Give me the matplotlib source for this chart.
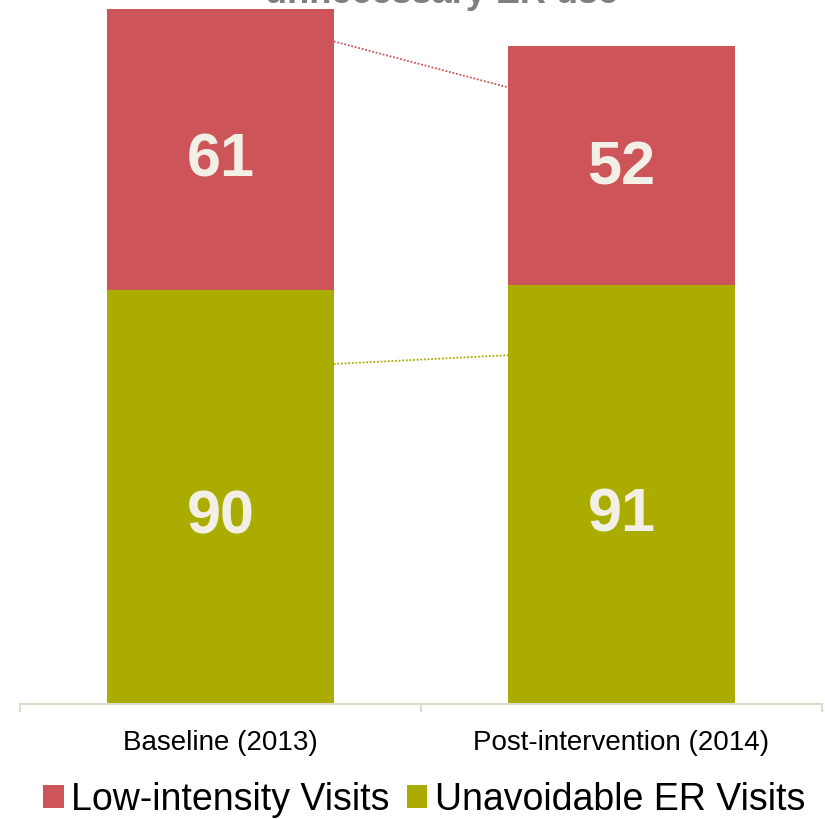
import matplotlib
matplotlib.use("Agg")
import matplotlib.pyplot as plt
from matplotlib.patches import Patch
from matplotlib.transforms import offset_copy
import numpy as np

plt.rcParams['font.family'] = ['Liberation Sans', 'DejaVu Sans']

categories = ["Baseline (2013)", "Post-intervention (2014)"]
unavoidable = [90, 91]
low_intensity = [61, 52]
# dotted series-line endpoints
line_low = [144.0, 134.0]
line_unavoid = [73.9, 75.8]

red = "#CD5459"
green = "#AAAD00"
label_color = "#F2EFE6"
axis_color = "#DEDBCD"

# label placement tweaks (pixels downward from segment centre)
shift_low = [5, -3]
shift_unavoid = [15, 15]

fig = plt.figure(figsize=(8.25, 8.19), dpi=100)
ax = fig.add_axes([20/825, 1-704/819, 802/825, 704/819])

x = np.arange(len(categories))
w = 0.565
ax.bar(x, unavoidable, width=w, color=green, zorder=2)
ax.bar(x, low_intensity, width=w, bottom=unavoidable, color=red, zorder=2)

ax.plot([x[0]+w/2, x[1]-w/2], line_low, linestyle=(0, (1, 1)), color=red, lw=1.3)
ax.plot([x[0]+w/2, x[1]-w/2], line_unavoid, linestyle=(0, (1, 1)), color=green, lw=1.3)

fs = 44
cap_px = 0.716 * fs * 100 / 72
px2pt = 72 / 100
for i in range(len(categories)):
    tr = offset_copy(ax.transData, fig=fig, x=0, y=-(shift_unavoid[i] + cap_px/2) * px2pt, units='points')
    ax.text(x[i], unavoidable[i]/2, str(unavoidable[i]), ha='center', va='baseline',
            fontsize=fs, fontweight='bold', color=label_color, transform=tr)
    tr = offset_copy(ax.transData, fig=fig, x=0, y=-(shift_low[i] + cap_px/2) * px2pt, units='points')
    ax.text(x[i], unavoidable[i] + low_intensity[i]/2, str(low_intensity[i]), ha='center', va='baseline',
            fontsize=fs, fontweight='bold', color=label_color, transform=tr)

ax.set_xlim(-0.5, 1.5)
ax.set_ylim(0, 153)
ax.set_yticks([])
for s in ['top', 'right', 'left']:
    ax.spines[s].set_visible(False)
ax.spines['bottom'].set_color(axis_color)
ax.spines['bottom'].set_linewidth(1.5)
ax.set_xticks(x)
ax.set_xticklabels(categories, fontsize=20)
ax.tick_params(axis='x', which='major', length=0, pad=19)
ax.set_xticks([-0.5, 0.5, 1.5], minor=True)
ax.tick_params(axis='x', which='minor', length=6, width=1.5, color=axis_color)

fig.text(442/825, 1-3/819, "unnecessary ER use", ha='center', va='baseline',
         fontsize=26, fontweight='bold', color="#7F7F7F")

handles = [Patch(facecolor=red, edgecolor='none'), Patch(facecolor=green, edgecolor='none')]
fig.legend(handles, ["Low-intensity Visits", "Unavoidable ER Visits"], ncol=2,
           loc='center', bbox_to_anchor=(424/825, 1-800/819), frameon=False,
           fontsize=27, handlelength=0.55, handleheight=0.55, handletextpad=0.2,
           columnspacing=0.45, borderpad=0, borderaxespad=0)

fig.savefig("out.png", dpi=100)
